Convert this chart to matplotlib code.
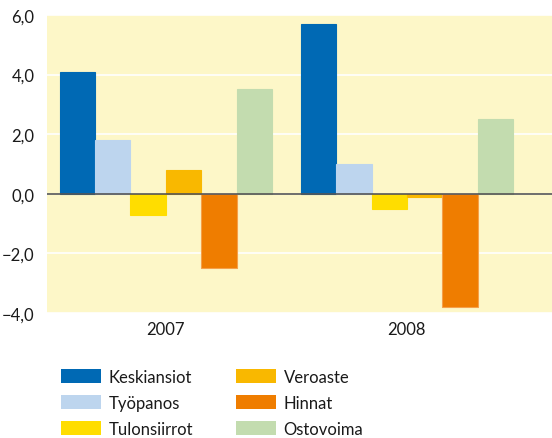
import matplotlib.pyplot as plt
import numpy as np
from matplotlib.patches import Patch

years = ["2007", "2008"]
series = ["Keskiansiot", "Työpanos", "Tulonsiirrot", "Veroaste", "Hinnat", "Ostovoima"]
keskiansiot = [4.1, 5.7]
tyopanos = [1.8, 1.0]
tulonsiirrot = [-0.7, -0.5]
veroaste = [0.8, -0.1]
hinnat = [-2.5, -3.8]
ostovoima = [3.5, 2.5]
colors = ["#0069B4", "#BDD5EE", "#FFDD00", "#F9B800", "#EF7D00", "#C3DCAF"]
yticks = [-4, -2, 0, 2, 4, 6]

values = [keskiansiot, tyopanos, tulonsiirrot, veroaste, hinnat, ostovoima]

plt.rcParams['font.family'] = ['Lato', 'DejaVu Sans']

fig = plt.figure(figsize=(5.52, 4.39), dpi=100)
ax = fig.add_axes([0.0851, 0.2847, 0.9149, 0.6789])
ax.set_facecolor("#FDF7C8")

x = np.arange(len(years))
w = 0.1467
for i, (name, vals, c) in enumerate(zip(series, values, colors)):
    ec = "#F5A04A" if name == "Hinnat" else c
    ax.bar(x + (i - 2.5) * w, vals, width=w, color=c, edgecolor=ec, linewidth=0.8, zorder=2)

ax.set_ylim(-4, 6)
ax.set_xlim(-0.493, 1.602)
ax.set_yticks(yticks)
ax.set_yticklabels([f"{v:.1f}".replace(".", ",").replace("-", "\u2212") for v in yticks],
                   fontsize=12, color="#1a1a1a")
ax.set_xticks(x)
ax.set_xticklabels(years, fontsize=12, color="#1a1a1a")
ax.tick_params(length=0, pad=9)
ax.tick_params(axis='x', pad=6)
for s in ax.spines.values():
    s.set_visible(False)
ax.grid(axis='y', color='white', linewidth=1.2, zorder=1)
ax.axhline(0, color='#555555', linewidth=1.2, zorder=3)

handles = [Patch(facecolor=c, label=n) for n, c in zip(series, colors)]
leg = fig.legend(handles=handles, ncol=2, loc='upper left', bbox_to_anchor=(0.098, 0.173),
                 frameon=False, fontsize=12, handlelength=2.4, handleheight=0.85,
                 handletextpad=0.45, columnspacing=2.6, labelspacing=0.6, borderaxespad=0)
for t in leg.get_texts():
    t.set_color("#1a1a1a")

fig.savefig("out.png", dpi=100)
